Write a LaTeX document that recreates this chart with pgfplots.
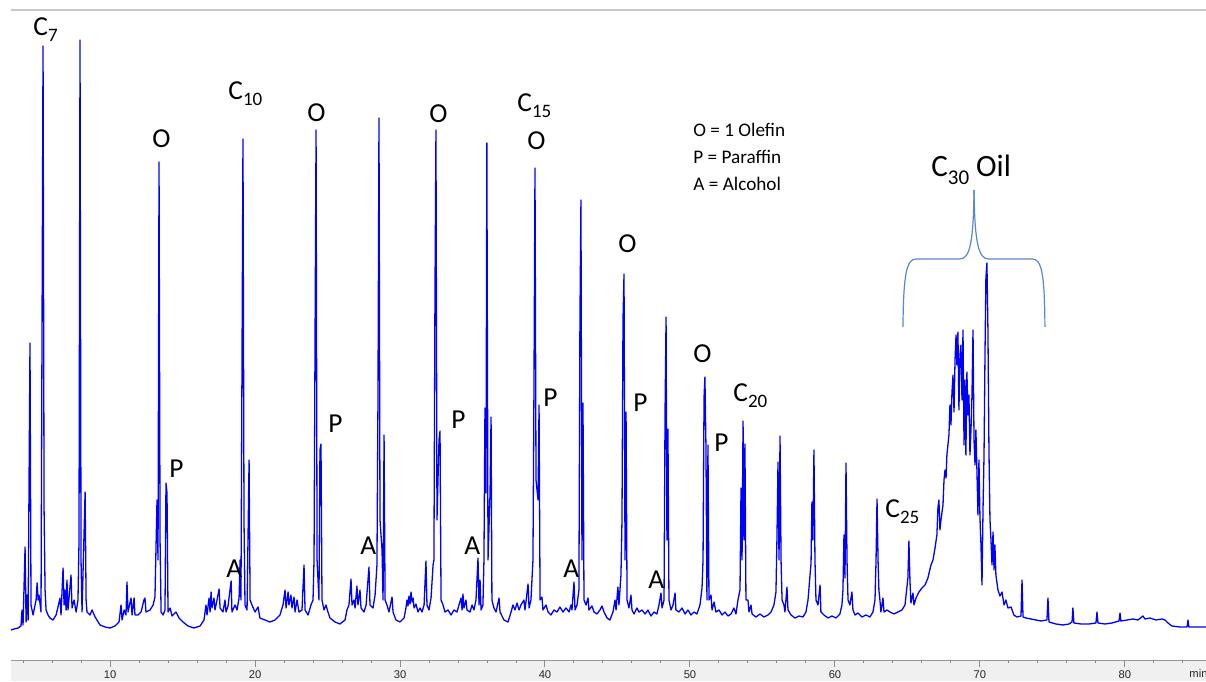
\documentclass[border=0pt]{standalone}
\usepackage{pgfplots}
\pgfplotsset{compat=1.18}
\usepackage{fontspec}
\setmainfont{Carlito}
\newfontfamily\tickfont{Liberation Sans}
\definecolor{trace}{RGB}{0,0,255}
\definecolor{brace}{RGB}{91,135,205}
\definecolor{band}{RGB}{240,240,240}
\newcommand\sub[1]{\raisebox{-3pt}{\fontsize{9.5}{10}\selectfont #1}}
\newcommand\lbl{\fontsize{13.7}{16}\selectfont}
\begin{document}
\begin{tikzpicture}
\useasboundingbox (0,0) rectangle (603pt,340.5pt);
\begin{axis}[
  at={(5.5pt,10.5pt)}, anchor=south west,
  width=597.5pt, height=325pt, scale only axis,
  xmin=3.17, xmax=85.59, ymin=-32, ymax=618,
  clip=false, axis on top,
  axis line style={draw=none},
  ytick=\empty,
  xtick={10,20,...,80},
  minor xtick={4,6,...,84},
  xtick pos=bottom,
  xtick align=outside,
  major tick length=3.3pt, minor tick length=1.7pt,
  every tick/.style={color=black!45, line width=0.5pt},
  /pgf/number format/assume math mode=true,
  xticklabel style={font=\tickfont\fontsize{5.6}{6.5}\selectfont, text=black!85, anchor=base, inner sep=0pt, yshift=-5.9pt},
]
\fill[band] (axis cs:3.17,-32) rectangle (axis cs:85.59,-53);
\draw[color=black!40, line width=0.5pt] (axis cs:3.17,-32) -- (axis cs:85.59,-32);
\draw[color=black!22, line width=0.6pt] (axis cs:3.17,618) -- (axis cs:85.59,618);
\addplot[trace, line width=0.65pt, line join=round, mark=none] table {
3.17 -2
3.38 -1
3.66 0
3.86 2
3.93 18
4.00 3
4.14 81
4.21 6
4.28 33
4.35 8
4.48 285
4.55 23
4.69 13
4.90 28
4.97 45
5.04 28
5.10 33
5.24 16
5.38 582
5.45 120
5.52 38
5.59 18
5.72 13
5.86 10
6.07 8
6.28 13
6.41 21
6.55 30
6.62 13
6.76 60
6.83 23
6.90 38
6.97 18
7.03 48
7.10 18
7.31 53
7.38 20
7.52 28
7.66 16
7.79 28
7.86 86
7.93 588
8.00 68
8.07 16
8.28 136
8.35 28
8.41 16
8.62 13
8.76 18
8.97 11
9.31 3
9.66 1
10.00 0
10.34 2
10.62 6
10.76 23
10.83 8
10.97 18
11.10 13
11.17 46
11.24 16
11.45 30
11.52 13
11.66 30
11.72 13
11.93 13
12.14 16
12.34 28
12.41 30
12.48 16
12.76 18
12.97 23
13.10 31
13.24 128
13.31 68
13.38 466
13.45 88
13.52 16
13.66 13
13.79 18
13.86 145
13.93 135
14.00 16
14.14 20
14.28 12
14.55 16
14.76 10
15.03 6
15.38 2
15.79 0
16.21 2
16.48 8
16.62 23
16.69 13
16.83 30
16.90 16
16.97 36
17.03 20
17.17 30
17.24 18
17.38 28
17.52 39
17.59 20
17.79 16
17.93 28
18.00 16
18.14 22
18.35 47
18.41 16
18.62 23
18.76 18
18.90 30
18.97 68
19.03 28
19.17 489
19.24 108
19.31 23
19.45 18
19.59 168
19.66 28
19.79 23
20.00 16
20.21 21
20.34 10
20.69 8
21.03 6
21.38 8
21.72 13
21.93 23
22.07 38
22.14 20
22.28 36
22.34 23
22.48 33
22.55 20
22.69 31
22.76 16
22.90 28
23.03 16
23.24 18
23.38 63
23.45 18
23.66 13
23.86 23
24.00 28
24.07 68
24.14 288
24.21 498
24.28 68
24.41 28
24.48 178
24.55 184
24.62 28
24.76 18
24.90 23
25.03 16
25.17 10
25.52 6
25.86 4
26.21 8
26.34 18
26.48 23
26.62 49
26.69 23
26.83 28
26.90 20
27.03 42
27.10 23
27.24 38
27.31 20
27.52 16
27.66 23
27.86 61
27.93 23
28.14 20
28.28 33
28.41 63
28.48 228
28.55 510
28.62 108
28.76 78
28.83 28
28.90 193
28.97 28
29.10 23
29.24 16
29.45 31
29.52 16
29.72 8
30.00 6
30.28 10
30.41 20
30.48 28
30.55 22
30.62 32
30.69 24
30.76 36
30.83 26
30.90 30
30.97 20
31.10 24
31.24 16
31.38 20
31.52 16
31.66 23
31.79 67
31.86 23
32.00 18
32.14 30
32.28 63
32.34 68
32.41 328
32.48 498
32.55 108
32.69 188
32.76 197
32.83 28
32.97 23
33.10 16
33.31 18
33.52 13
33.72 18
33.93 16
34.07 23
34.21 30
34.28 18
34.34 34
34.41 20
34.55 28
34.62 18
34.83 16
34.97 23
35.10 18
35.24 28
35.38 70
35.45 23
35.52 48
35.59 18
35.72 23
35.79 68
35.86 220
35.93 135
35.99 485
36.07 68
36.21 135
36.28 211
36.34 28
36.48 20
36.62 16
36.83 30
36.90 16
37.17 8
37.45 6
37.66 16
37.79 23
37.93 18
38.07 25
38.21 18
38.34 23
38.55 28
38.62 18
38.83 44
38.90 20
39.03 28
39.17 68
39.24 242
39.31 460
39.38 148
39.52 128
39.59 223
39.66 28
39.79 31
39.86 18
40.07 23
40.21 16
40.41 13
40.62 18
40.83 16
41.03 21
41.24 16
41.45 20
41.66 16
41.79 23
41.86 18
42.00 46
42.07 18
42.21 23
42.34 38
42.41 308
42.48 428
42.55 68
42.62 225
42.69 28
42.83 23
42.97 30
43.03 18
43.24 22
43.38 16
43.59 14
43.79 18
43.93 22
44.07 16
44.28 10
44.48 8
44.69 16
44.83 28
44.90 18
45.03 41
45.10 23
45.24 53
45.31 108
45.38 308
45.45 354
45.52 68
45.59 216
45.66 28
45.79 20
45.93 33
46.00 18
46.14 14
46.34 20
46.48 16
46.69 18
46.90 14
47.10 18
47.31 12
47.52 16
47.72 14
47.86 23
48.00 35
48.07 20
48.21 28
48.28 216
48.35 311
48.41 88
48.48 199
48.55 28
48.69 18
48.83 23
48.97 35
49.03 18
49.24 16
49.45 20
49.66 14
49.86 18
50.07 13
50.28 16
50.48 14
50.69 23
50.83 40
50.90 68
50.97 231
51.03 251
51.10 183
51.17 28
51.24 183
51.31 28
51.45 33
51.52 18
51.66 26
51.79 16
52.00 18
52.21 13
52.41 16
52.62 12
52.83 14
53.03 20
53.17 14
53.31 28
53.45 38
53.52 140
53.59 68
53.66 207
53.72 88
53.79 184
53.86 28
54.00 28
54.07 16
54.21 23
54.28 14
54.55 11
54.83 14
55.10 11
55.38 13
55.59 16
55.79 23
55.93 36
56.00 91
56.07 166
56.14 68
56.21 192
56.28 68
56.35 28
56.48 23
56.55 16
56.69 41
56.76 18
56.97 13
57.24 10
57.52 12
57.79 11
58.00 16
58.14 28
58.28 53
58.35 65
58.41 126
58.48 88
58.55 178
58.62 68
58.69 28
58.83 23
58.97 43
59.03 16
59.24 13
59.52 10
59.79 12
60.07 10
60.34 14
60.48 23
60.55 38
60.62 93
60.69 50
60.76 165
60.83 68
60.90 28
61.03 23
61.17 36
61.24 18
61.38 13
61.59 15
61.86 11
62.14 13
62.41 11
62.62 16
62.76 28
62.83 66
62.90 129
62.97 68
63.03 38
63.10 28
63.17 16
63.31 30
63.38 16
63.59 18
63.79 16
64.07 14
64.34 16
64.62 18
64.83 23
65.03 50
65.10 87
65.17 48
65.24 25
65.38 35
65.45 23
65.59 30
65.79 36
66.00 40
66.21 43
66.41 50
66.62 63
66.76 68
66.90 80
67.03 93
67.10 120
67.17 128
67.24 98
67.31 108
67.45 123
67.52 148
67.59 158
67.66 150
67.72 173
67.79 183
67.86 193
67.93 223
68.00 203
68.07 236
68.14 253
68.21 216
68.28 268
68.35 293
68.41 263
68.48 296
68.55 218
68.62 273
68.69 283
68.76 228
68.83 298
68.90 183
68.97 248
69.03 173
69.10 256
69.17 213
69.24 233
69.31 173
69.38 198
69.45 233
69.52 298
69.59 188
69.66 163
69.72 198
69.79 158
69.86 113
69.93 168
70.00 110
70.07 83
70.14 43
70.21 118
70.28 173
70.35 278
70.41 350
70.48 365
70.55 298
70.62 178
70.69 108
70.76 88
70.83 63
70.90 96
70.97 58
71.03 83
71.10 53
71.24 38
71.38 32
71.52 36
71.66 23
71.79 28
71.93 20
72.14 21
72.34 13
72.55 11
72.83 12
72.90 48
72.97 11
73.17 10
73.52 9
73.86 8
74.21 7
74.62 8
74.69 30
74.76 6
75.24 4
75.72 3
76.14 4
76.35 6
76.41 20
76.48 5
76.97 4
77.52 4
78.00 5
78.07 16
78.14 5
78.62 4
79.10 5
79.59 7
79.66 15
79.72 7
80.14 8
80.55 9
80.90 8
81.24 12
81.38 9
81.72 10
82.14 8
82.55 9
82.76 8
82.97 5
83.24 2
83.79 1
84.28 1
84.35 8
84.41 1
85.17 1
85.59 1
};
% peak labels
\begin{scope}[every node/.style={anchor=base west, inner sep=0pt, font=\lbl, text=black}]
\node at (axis cs:4.69,592) {C\sub{7}};
\node at (axis cs:18.14,528) {C\sub{10}};
\node at (axis cs:38.07,516) {C\sub{15}};
\node at (axis cs:52.97,226) {C\sub{20}};
\node at (axis cs:63.45,110) {C\sub{25}};
\node at (axis cs:12.90,480) {O};
\node at (axis cs:23.58,506) {O};
\node at (axis cs:32.00,505) {O};
\node at (axis cs:38.76,478) {O};
\node at (axis cs:45.03,375) {O};
\node at (axis cs:50.21,265) {O};
\node at (axis cs:14.07,150) {P};
\node at (axis cs:25.03,195) {P};
\node at (axis cs:33.52,199) {P};
\node at (axis cs:39.86,221) {P};
\node at (axis cs:46.07,216) {P};
\node at (axis cs:51.66,176) {P};
\node at (axis cs:18.00,51) {A};
\node at (axis cs:27.24,73) {A};
\node at (axis cs:34.41,73) {A};
\node at (axis cs:41.24,51) {A};
\node at (axis cs:47.10,39) {A};
\end{scope}
% key
\begin{scope}[every node/.style={anchor=base west, inner sep=0pt, font=\fontsize{9.6}{11}\selectfont, text=black}]
\node at (axis cs:50.21,491) {O = 1 Olefin};
\node at (axis cs:50.21,464) {P = Paraffin};
\node at (axis cs:50.21,437) {A = Alcohol};
\end{scope}
% C30 oil bracket
\node[anchor=base west, inner sep=0pt, font=\fontsize{15.5}{17}\selectfont] at (axis cs:66.62,451) {C\raisebox{-4pt}{\fontsize{10.5}{11}\selectfont 30} Oil};
\draw[brace, line width=0.6pt] (axis cs:64.69,301) .. controls (axis cs:64.72,355) and (axis cs:64.95,369) .. (axis cs:65.6,369) -- (axis cs:68.6,369) .. controls (axis cs:69.3,369) and (axis cs:69.55,385) .. (axis cs:69.59,438);
\draw[brace, line width=0.6pt] (axis cs:69.59,438) .. controls (axis cs:69.63,385) and (axis cs:69.9,369) .. (axis cs:70.6,369) -- (axis cs:73.6,369) .. controls (axis cs:74.25,369) and (axis cs:74.46,355) .. (axis cs:74.48,301);
\node[anchor=base west, inner sep=0pt, font=\tickfont\fontsize{5.6}{6.5}\selectfont, text=black!85] at (axis cs:84.42,-50) {min};
\end{axis}
\end{tikzpicture}
\end{document}
